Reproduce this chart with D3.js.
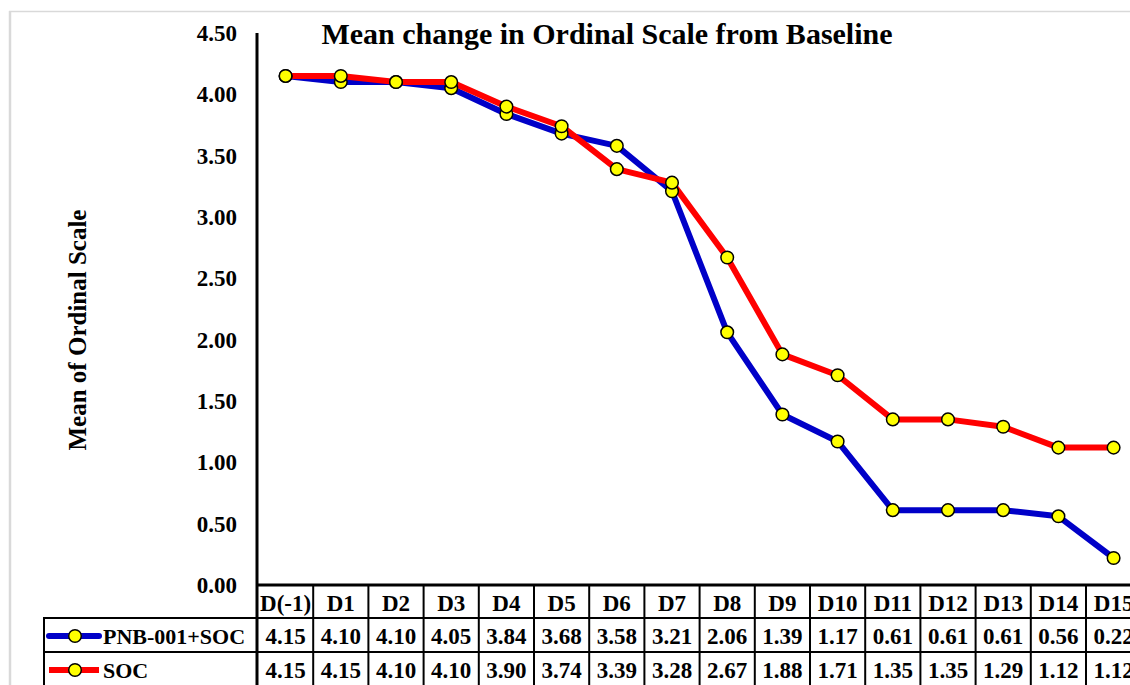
<!DOCTYPE html>
<meta charset="utf-8">
<script src="https://d3js.org/d3.v7.min.js"></script>
<style>
body { margin: 0; background: #fff; }
text { font-family: "Liberation Serif", "Times New Roman", serif; font-weight: bold; fill: #000; }
</style>
<svg class="chart" width="1130" height="685"></svg>
<script>

var days = ["D(-1)","D1","D2","D3","D4","D5","D6","D7","D8","D9","D10","D11","D12","D13","D14","D15"];
var pnb = [4.15,4.10,4.10,4.05,3.84,3.68,3.58,3.21,2.06,1.39,1.17,0.61,0.61,0.61,0.56,0.22];
var soc = [4.15,4.15,4.10,4.10,3.90,3.74,3.39,3.28,2.67,1.88,1.71,1.35,1.35,1.29,1.12,1.12];
var yTicks = [0,0.5,1,1.5,2,2.5,3,3.5,4,4.5];

var series = [
  {name: "PNB-001+SOC", values: pnb, color: "#0000c8"},
  {name: "SOC", values: soc, color: "#ff0000"}
];

var svg = d3.select(".chart");

var colW = 55.2;
var x = d3.scaleBand().domain(days).range([258, 258 + days.length * colW]).padding(0);
var y = d3.scaleLinear().domain([0, 4.5]).range([585, 33]);

// outer gray frame
svg.append("line").attr("x1", 9).attr("x2", 1130).attr("y1", 11.5).attr("y2", 11.5)
  .attr("stroke", "#d9d9d9").attr("stroke-width", 1.5);
svg.append("line").attr("x1", 10).attr("x2", 10).attr("y1", 11).attr("y2", 685)
  .attr("stroke", "#d9d9d9").attr("stroke-width", 2.5);

// title
svg.append("text").attr("x", 607).attr("y", 44).attr("text-anchor", "middle")
  .style("font-size", "30px").text("Mean change in Ordinal Scale from Baseline");

// y axis labels
svg.selectAll(".ytick").data(yTicks).enter().append("text")
  .attr("class", "ytick")
  .attr("x", 237).attr("y", function(d){ return y(d); })
  .attr("dy", "0.35em").attr("text-anchor", "end")
  .style("font-size", "23px")
  .text(function(d){ return d3.format(".2f")(d); });

svg.append("text")
  .attr("transform", "translate(86,330) rotate(-90)")
  .attr("text-anchor", "middle").style("font-size", "25px")
  .text("Mean of Ordinal Scale");

// table grid
var tableRight = 1135;
var rowY = [585, 618, 652, 690];
var grid = svg.append("g").attr("stroke", "#000");
grid.append("line").attr("x1", 258).attr("x2", tableRight).attr("y1", 585).attr("y2", 585).attr("stroke-width", 3);
grid.append("line").attr("x1", 43).attr("x2", tableRight).attr("y1", 618).attr("y2", 618).attr("stroke-width", 2);
grid.append("line").attr("x1", 43).attr("x2", tableRight).attr("y1", 652).attr("y2", 652).attr("stroke-width", 2);
grid.append("line").attr("x1", 44).attr("x2", 44).attr("y1", 618).attr("y2", 690).attr("stroke-width", 2);
grid.selectAll(".vline").data(days.slice(1)).enter().append("line")
  .attr("x1", function(d){ return x(d); }).attr("x2", function(d){ return x(d); })
  .attr("y1", 585).attr("y2", 690).attr("stroke-width", 2);

// y axis line
svg.append("line").attr("x1", 257).attr("x2", 257).attr("y1", 33).attr("y2", 690)
  .attr("stroke", "#000").attr("stroke-width", 3);

// header labels
svg.selectAll(".hdr").data(days).enter().append("text")
  .attr("class", "hdr")
  .attr("x", function(d){ return x(d) + colW / 2; }).attr("y", 603)
  .attr("dy", "0.35em").attr("text-anchor", "middle")
  .style("font-size", "23px").text(function(d){ return d; });

// lines + markers
var line = d3.line()
  .x(function(d, i){ return x(days[i]) + colW / 2; })
  .y(function(d){ return y(d); });

series.forEach(function(s){
  svg.append("path").datum(s.values)
    .attr("d", line).attr("fill", "none")
    .attr("stroke", s.color).attr("stroke-width", 6)
    .attr("stroke-linejoin", "round");
});
series.forEach(function(s){
  svg.append("g").selectAll("circle").data(s.values).enter().append("circle")
    .attr("cx", function(d, i){ return x(days[i]) + colW / 2; })
    .attr("cy", function(d){ return y(d); })
    .attr("r", 6.3).attr("fill", "#ffff00")
    .attr("stroke", "#000").attr("stroke-width", 1.5);
});

// table rows
var rowCy = [636, 670];
series.forEach(function(s, k){
  var cy = rowCy[k];
  var leg = svg.append("g");
  leg.append("line").attr("x1", 49).attr("x2", 99).attr("y1", cy).attr("y2", cy)
    .attr("stroke", s.color).attr("stroke-width", 6).attr("stroke-linecap", k === 0 ? "round" : "butt");
  leg.append("circle").attr("cx", 75).attr("cy", cy).attr("r", 6.3)
    .attr("fill", "#ffff00").attr("stroke", "#000").attr("stroke-width", 1.5);
  leg.append("text").attr("x", 103).attr("y", cy).attr("dy", "0.35em")
    .style("font-size", "22px").text(s.name);

  svg.append("g").selectAll("text").data(s.values).enter().append("text")
    .attr("x", function(d, i){ return x(days[i]) + colW / 2; })
    .attr("y", cy).attr("dy", "0.35em").attr("text-anchor", "middle")
    .style("font-size", "23px")
    .text(function(d){ return d3.format(".2f")(d); });
});

</script>
